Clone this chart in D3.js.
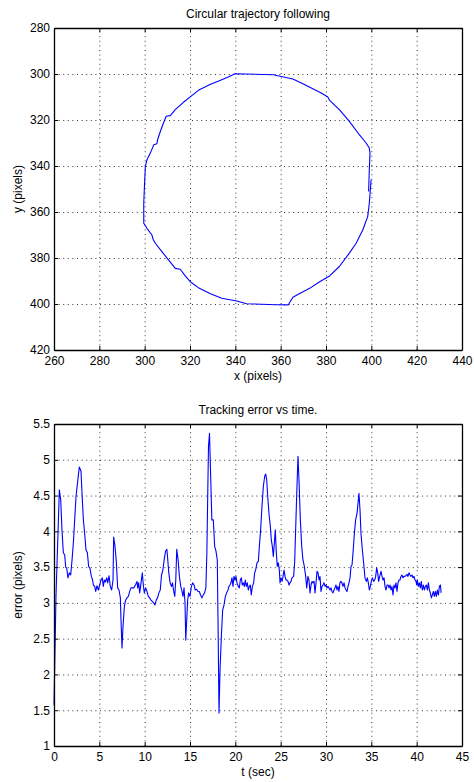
<!DOCTYPE html>
<html>
<head>
<meta charset="utf-8">
<script src="https://cdn.jsdelivr.net/npm/d3@7"></script>
<style>
html,body{margin:0;padding:0;background:#fff;}
svg text{font-family:"Liberation Sans",Arial,Helvetica,sans-serif;fill:#000;}
</style>
</head>
<body>
<svg id="chart" width="474" height="782"></svg>
<script>
// ---- Top chart data: trajectory (x, y in pixels) ----
const trajX = [398.8,399.1,399.4,399.1,397.7,394.7,390.3,385.9,381.6,380.8,377.9,373.5,369.8,365.4,356.7,339.8,336.9,333.2,328.8,323.7,320.8,317.1,313.5,311.3,309.5,308.3,306.9,305.7,305.4,304.0,302.5,301.0,300.3,299.9,299.6,299.6,301.0,303.2,303.7,304.7,307.6,310.5,313.5,315.7,317.9,320.1,323.7,328.8,334.0,340.6,345.0,358.1,363.3,365.4,368.4,372.8,377.2,381.6,385.9,390.3,393.3,396.2,398.4,399.1,399.9];
const trajY = [351.1,341.7,334.4,332.2,330.0,326.4,320.6,315.5,311.5,310.0,308.3,306.1,304.2,302.2,300.3,299.9,301.3,302.8,304.6,307.1,309.4,312.3,315.5,318.1,318.4,321.3,325.0,328.6,330.3,330.8,334.4,337.3,340.2,348.9,356.2,364.9,367.1,370.0,371.8,373.6,377.2,380.8,384.5,384.9,387.8,390.3,392.9,395.4,397.5,398.7,399.9,400.3,400.4,397.1,395.4,393.2,390.3,387.8,383.7,377.9,373.6,367.8,362.0,356.2,346.0];
const topXTicks = [260,280,300,320,340,360,380,400,420,440];
const topYTicks = [280,300,320,340,360,380,400,420];

// ---- Bottom chart data: tracking error vs time ----
const timeT = [0.00,0.22,0.59,0.74,0.88,1.03,1.18,1.29,1.40,1.54,1.69,1.84,1.99,2.13,2.28,2.43,2.65,2.79,2.98,3.09,3.24,3.38,3.53,3.68,3.82,3.97,4.12,4.26,4.34,4.49,4.60,4.74,4.89,5.04,5.18,5.33,5.44,5.55,5.66,5.81,5.92,6.07,6.21,6.36,6.51,6.58,6.73,6.88,7.02,7.17,7.32,7.39,7.50,7.61,7.76,7.90,8.05,8.20,8.35,8.49,8.64,
 8.80,8.98,9.16,9.23,9.34,9.45,9.60,9.74,9.85,9.96,10.11,10.26,10.40,10.55,10.69,10.84,10.99,11.13,11.28,11.42,11.57,11.72,11.86,12.01,12.15,12.30,12.45,12.55,12.66,12.81,12.96,13.07,13.18,13.32,13.43,13.54,13.69,13.83,13.98,14.12,14.23,14.34,14.45,14.53,14.64,14.74,14.85,15.00,15.15,15.29,15.44,15.58,15.73,15.88,16.02,16.17,16.31,16.46,16.61,16.75,16.86,16.97,17.04,17.15,17.26,17.41,17.57,
 17.72,17.87,18.01,18.09,18.20,18.31,18.46,18.60,18.75,18.90,19.04,19.19,19.30,19.41,19.52,19.63,19.74,19.85,19.96,20.07,20.18,20.33,20.44,20.55,20.66,20.77,20.88,20.99,21.10,21.21,21.32,21.43,21.54,21.65,21.76,21.88,22.02,22.13,22.24,22.39,22.54,22.65,22.79,22.94,23.09,23.24,23.35,23.46,23.57,23.71,23.86,23.97,24.08,24.19,24.30,24.41,24.52,24.63,24.74,24.85,24.93,25.04,25.15,25.26,25.37,25.48,25.59,25.70,25.81,25.92,26.03,26.14,26.25,
 26.43,26.54,26.65,26.80,26.91,27.02,27.17,27.32,27.46,27.61,27.76,27.87,28.01,28.12,28.24,28.35,28.46,28.57,28.68,28.79,28.90,29.01,29.12,29.23,29.34,29.45,29.56,29.67,29.78,29.89,30.00,30.11,30.22,30.33,30.44,30.55,30.66,30.77,30.88,30.99,31.10,31.21,31.32,31.43,31.54,31.65,31.76,31.87,31.99,32.10,32.21,32.32,32.43,32.54,32.65,32.76,32.87,32.98,33.13,33.27,33.42,33.53,33.64,33.75,33.86,34.01,34.15,34.30,34.45,34.56,34.67,34.78,34.89,35.00,
 35.11,35.26,35.37,35.48,35.59,35.70,35.81,35.92,36.07,36.18,36.29,36.40,36.51,36.62,36.73,36.84,36.95,37.06,37.17,37.28,37.39,37.50,37.61,37.72,37.83,37.94,38.05,38.16,38.27,38.38,38.49,38.60,38.71,38.82,38.93,39.04,39.15,39.26,39.37,39.49,39.60,39.71,39.82,39.93,40.00,40.07,40.18,40.29,40.40,40.51,40.62,40.74,40.85,40.96,41.07,41.18,41.29,41.40,41.51,41.62,41.73,41.84,41.95,42.06,42.17,42.28,42.40,42.51,42.62,42.70];
const errorV = [1.57,3.10,4.58,4.44,4.02,3.70,3.67,3.50,3.49,3.35,3.42,3.39,3.60,3.83,4.16,4.49,4.74,4.90,4.84,4.53,4.16,3.97,3.74,3.70,3.51,3.48,3.37,3.32,3.25,3.23,3.16,3.24,3.18,3.25,3.32,3.35,3.23,3.32,3.29,3.35,3.28,3.38,3.23,3.18,3.32,3.92,3.79,3.56,3.21,3.18,3.07,2.76,2.37,2.67,2.95,3.04,3.07,3.09,3.16,3.21,3.21,
 3.21,3.25,3.30,3.21,3.28,3.14,3.28,3.42,3.25,3.14,3.21,3.16,3.09,3.07,3.04,3.02,3.00,2.97,3.04,3.07,3.14,3.18,3.39,3.46,3.60,3.72,3.75,3.60,3.42,3.28,3.23,3.28,3.18,3.09,3.32,3.75,3.60,3.37,3.23,3.16,3.09,3.21,3.00,2.48,2.76,3.04,3.14,3.09,3.23,3.28,3.25,3.18,3.19,3.16,3.16,3.11,3.07,3.11,3.14,3.21,3.70,4.63,5.19,5.37,4.86,4.16,4.16,
 3.79,3.72,3.60,2.76,1.46,2.06,2.53,2.90,2.97,3.09,3.14,3.18,3.23,3.25,3.28,3.35,3.23,3.37,3.32,3.37,3.28,3.23,3.21,3.32,3.35,3.25,3.28,3.23,3.32,3.23,3.28,3.18,3.23,3.25,3.11,3.23,3.28,3.42,3.46,3.56,3.58,3.79,4.02,4.35,4.63,4.77,4.80,4.72,4.49,4.25,4.07,3.88,3.79,3.65,3.83,4.02,3.70,3.51,3.56,3.46,3.28,3.35,3.30,3.37,3.46,3.37,3.32,3.32,3.30,3.25,3.28,3.30,3.35,
 3.37,3.56,4.02,4.63,5.05,4.72,4.16,3.79,3.60,3.51,3.37,3.21,3.37,3.32,3.14,3.25,3.30,3.28,3.30,3.14,3.28,3.44,3.42,3.32,3.37,3.16,3.23,3.25,3.28,3.23,3.25,3.21,3.23,3.21,3.18,3.21,3.16,3.14,3.18,3.21,3.25,3.18,3.23,3.16,3.28,3.30,3.28,3.23,3.28,3.21,3.18,3.16,3.23,3.28,3.35,3.51,3.53,3.70,3.97,4.16,4.25,4.39,4.53,4.30,3.97,3.74,3.56,3.35,3.30,3.35,3.28,3.18,3.23,3.30,
 3.35,3.30,3.32,3.37,3.49,3.42,3.30,3.37,3.44,3.37,3.32,3.35,3.23,3.18,3.25,3.25,3.21,3.25,3.18,3.23,3.11,3.25,3.21,3.28,3.16,3.28,3.32,3.32,3.37,3.39,3.35,3.37,3.37,3.38,3.40,3.37,3.42,3.39,3.37,3.39,3.35,3.37,3.32,3.30,3.25,3.32,3.23,3.28,3.21,3.30,3.18,3.25,3.18,3.23,3.25,3.18,3.28,3.18,3.14,3.07,3.11,3.16,3.09,3.16,3.09,3.18,3.11,3.23,3.25,3.14];
const botXTicks = [0,5,10,15,20,25,30,35,40,45];
const botYTicks = [1,1.5,2,2.5,3,3.5,4,4.5,5,5.5];

const svg = d3.select("#chart");
const FS = 12;

function panel(cfg){
  const {left, right, top, bottom, xDomain, yDomain, xTicks, yTicks, title, xLabel, yLabel, titleY, xLabelY, lineData} = cfg;
  const x = d3.scaleLinear().domain(xDomain).range([left, right]);
  const y = d3.scaleLinear().domain(yDomain).range([top, bottom]);
  const g = svg.append("g");
  const w = right - left, h = bottom - top;

  // grid
  const gridStyle = sel => {
    sel.select(".domain").remove();
    sel.selectAll("line").attr("stroke", "#000").attr("stroke-width", 0.8).attr("stroke-dasharray", "1,3.6");
    sel.selectAll("text").remove();
  };
  g.append("g").attr("transform", `translate(0,${bottom})`)
    .call(d3.axisBottom(x).tickValues(xTicks).tickSize(-h).tickFormat(""))
    .call(gridStyle);
  g.append("g").attr("transform", `translate(${left},0)`)
    .call(d3.axisLeft(y).tickValues(yTicks).tickSize(-w).tickFormat(""))
    .call(gridStyle);

  // data line
  g.append("path").datum(lineData)
    .attr("fill", "none").attr("stroke", "#0000ff").attr("stroke-width", 1.1)
    .attr("stroke-linejoin", "round")
    .attr("d", d3.line().x(d => x(d[0])).y(d => y(d[1])));

  // axes with inward ticks
  const axStyle = sel => {
    sel.select(".domain").attr("stroke", "#000").attr("stroke-width", 1.3);
    sel.selectAll(".tick line").attr("stroke", "#000").attr("stroke-width", 1);
    sel.selectAll("text").attr("font-size", FS).attr("font-family", '"Liberation Sans",Arial,sans-serif');
  };
  g.append("g").attr("transform", `translate(0,${bottom})`)
    .call(d3.axisBottom(x).tickValues(xTicks).tickSize(-4).tickSizeOuter(0).tickPadding(6).tickFormat(d3.format("")))
    .call(axStyle);
  g.append("g").attr("transform", `translate(0,${top})`)
    .call(d3.axisTop(x).tickValues(xTicks).tickSize(-4).tickSizeOuter(0).tickFormat(""))
    .call(axStyle);
  g.append("g").attr("transform", `translate(${left},0)`)
    .call(d3.axisLeft(y).tickValues(yTicks).tickSize(-4).tickSizeOuter(0).tickPadding(4).tickFormat(d3.format("")))
    .call(axStyle);
  g.append("g").attr("transform", `translate(${right},0)`)
    .call(d3.axisRight(y).tickValues(yTicks).tickSize(-4).tickSizeOuter(0).tickFormat(""))
    .call(axStyle);

  g.append("text").attr("x", (left + right) / 2).attr("y", titleY)
    .attr("text-anchor", "middle").attr("font-size", FS).text(title);
  g.append("text").attr("x", (left + right) / 2).attr("y", xLabelY)
    .attr("text-anchor", "middle").attr("font-size", FS).text(xLabel);
  g.append("text").attr("transform", `translate(22,${(top + bottom) / 2}) rotate(-90)`)
    .attr("text-anchor", "middle").attr("font-size", FS).text(yLabel);
}

panel({
  left: 54, right: 462, top: 28, bottom: 350,
  xDomain: [260, 440], yDomain: [280, 420],
  xTicks: topXTicks, yTicks: topYTicks,
  title: "Circular trajectory following", xLabel: "x (pixels)", yLabel: "y (pixels)",
  titleY: 18, xLabelY: 380,
  lineData: trajX.map((v, i) => [v, trajY[i]])
});

panel({
  left: 54, right: 462, top: 424, bottom: 746,
  xDomain: [0, 45], yDomain: [5.5, 1],
  xTicks: botXTicks, yTicks: botYTicks,
  title: "Tracking error vs time.", xLabel: "t (sec)", yLabel: "error (pixels)",
  titleY: 414, xLabelY: 776,
  lineData: timeT.map((v, i) => [v, errorV[i]])
});
</script>
</body>
</html>
